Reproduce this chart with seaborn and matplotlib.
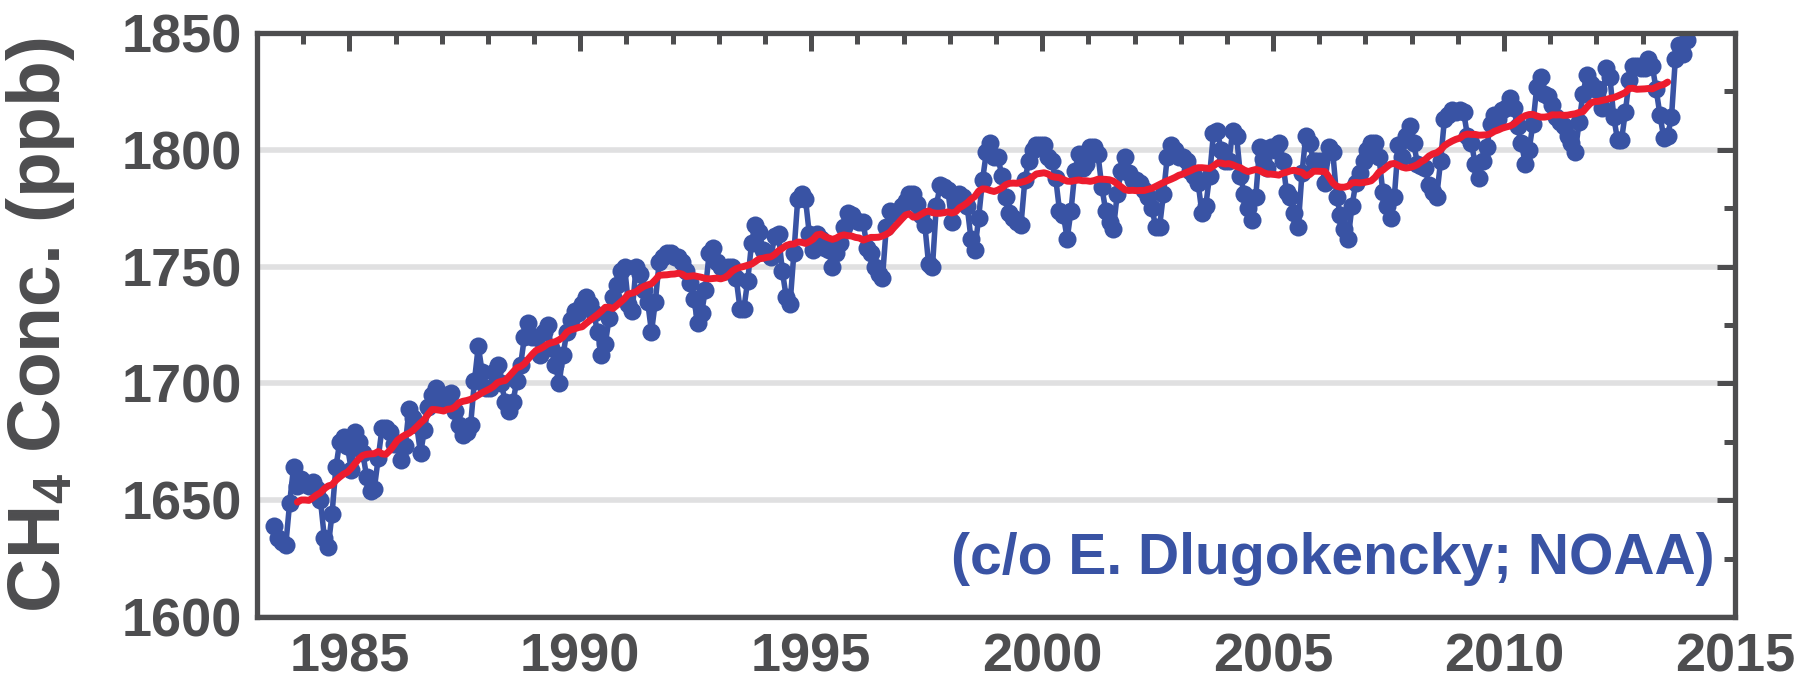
import numpy as np
import pandas as pd
import matplotlib
matplotlib.use('Agg')
import matplotlib.pyplot as plt
import seaborn as sns

# Monthly CH4 means (ppb): May 1983 .. Dec 2013
ch4_1983 = [1639, 1634, 1632, 1631, 1649, 1664, 1656, 1659]
ch4_1984 = [1657, 1656, 1658, 1655, 1650, 1634, 1630, 1644, 1664, 1675, 1677, 1673]
ch4_1985 = [1663, 1679, 1675, 1670, 1660, 1654, 1655, 1668, 1681, 1681, 1679, 1674]
ch4_1986 = [1674, 1667, 1673, 1689, 1685, 1682, 1670, 1680, 1690, 1695, 1698, 1694]
ch4_1987 = [1692, 1695, 1696, 1688, 1682, 1678, 1679, 1682, 1701, 1716, 1705, 1698]
ch4_1988 = [1698, 1705, 1708, 1700, 1692, 1688, 1692, 1701, 1708, 1720, 1726, 1720]
ch4_1989 = [1720, 1712, 1722, 1725, 1715, 1708, 1700, 1712, 1722, 1727, 1731, 1730]
ch4_1990 = [1734, 1737, 1734, 1730, 1722, 1712, 1717, 1728, 1737, 1742, 1748, 1750]
ch4_1991 = [1734, 1731, 1750, 1747, 1740, 1735, 1722, 1735, 1752, 1754, 1756, 1756]
ch4_1992 = [1754, 1754, 1752, 1748, 1743, 1736, 1726, 1730, 1740, 1756, 1758, 1752]
ch4_1993 = [1750, 1748, 1750, 1750, 1745, 1732, 1732, 1744, 1760, 1768, 1765, 1757]
ch4_1994 = [1756, 1754, 1763, 1764, 1748, 1737, 1734, 1756, 1779, 1781, 1779, 1764]
ch4_1995 = [1757, 1764, 1762, 1758, 1757, 1750, 1756, 1760, 1767, 1773, 1772, 1770]
ch4_1996 = [1769, 1769, 1758, 1756, 1750, 1747, 1745, 1767, 1774, 1773, 1773, 1776]
ch4_1997 = [1778, 1781, 1781, 1777, 1772, 1768, 1751, 1750, 1776, 1785, 1784, 1783]
ch4_1998 = [1769, 1778, 1781, 1780, 1776, 1762, 1757, 1771, 1787, 1799, 1803, 1797]
ch4_1999 = [1797, 1789, 1780, 1773, 1771, 1769, 1768, 1787, 1795, 1800, 1802, 1802]
ch4_2000 = [1802, 1797, 1795, 1788, 1774, 1772, 1762, 1774, 1791, 1798, 1792, 1794]
ch4_2001 = [1801, 1801, 1798, 1784, 1774, 1769, 1766, 1781, 1791, 1797, 1790, 1787]
ch4_2002 = [1787, 1786, 1783, 1780, 1775, 1767, 1767, 1781, 1797, 1802, 1800, 1797]
ch4_2003 = [1797, 1795, 1791, 1789, 1786, 1773, 1776, 1789, 1807, 1808, 1800, 1795]
ch4_2004 = [1795, 1808, 1806, 1789, 1781, 1775, 1770, 1780, 1801, 1796, 1792, 1801]
ch4_2005 = [1800, 1803, 1795, 1782, 1780, 1773, 1767, 1790, 1806, 1803, 1795, 1795]
ch4_2006 = [1795, 1786, 1801, 1799, 1780, 1772, 1766, 1762, 1776, 1786, 1790, 1795]
ch4_2007 = [1800, 1803, 1803, 1797, 1782, 1776, 1771, 1780, 1802, 1797, 1806, 1810]
ch4_2008 = [1803, 1794, 1793, 1792, 1785, 1782, 1780, 1795, 1813, 1815, 1817, 1816]
ch4_2009 = [1817, 1816, 1806, 1803, 1794, 1788, 1795, 1801, 1811, 1815, 1813, 1817]
ch4_2010 = [1818, 1822, 1818, 1810, 1803, 1794, 1800, 1811, 1827, 1831, 1824, 1823]
ch4_2011 = [1819, 1814, 1812, 1810, 1806, 1803, 1799, 1812, 1824, 1832, 1828, 1826]
ch4_2012 = [1826, 1818, 1835, 1831, 1814, 1804, 1804, 1816, 1830, 1836, 1836, 1835]
ch4_2013 = [1835, 1839, 1836, 1826, 1815, 1805, 1806, 1814, 1839, 1845, 1841, 1847]

start_year, start_month = 1983, 5

monthly = (ch4_1983 + ch4_1984 + ch4_1985 + ch4_1986 + ch4_1987 + ch4_1988
           + ch4_1989 + ch4_1990 + ch4_1991 + ch4_1992 + ch4_1993 + ch4_1994
           + ch4_1995 + ch4_1996 + ch4_1997 + ch4_1998 + ch4_1999 + ch4_2000
           + ch4_2001 + ch4_2002 + ch4_2003 + ch4_2004 + ch4_2005 + ch4_2006
           + ch4_2007 + ch4_2008 + ch4_2009 + ch4_2010 + ch4_2011 + ch4_2012
           + ch4_2013)

# decimal year at mid-month
t = start_year + (start_month - 1 + np.arange(len(monthly)) + 0.5) / 12
df = pd.DataFrame({'year': t, 'ch4': monthly})
# 12 month running mean (red trend line)
df['running'] = df['ch4'].rolling(12, center=True).mean()

blue = '#3953a4'
red = '#ed1c2e'
gray = '#4d4d4f'

sns.set_style('white')
plt.rcParams['font.family'] = ['Liberation Sans', 'DejaVu Sans']
plt.rcParams['font.weight'] = 'bold'
plt.rcParams['mathtext.fontset'] = 'custom'
plt.rcParams['mathtext.rm'] = 'Liberation Sans:bold'
plt.rcParams['mathtext.bf'] = 'Liberation Sans:bold'
plt.rcParams['mathtext.it'] = 'Liberation Sans:bold'

fig = plt.figure(figsize=(18.16, 6.85), dpi=100)
ax = fig.add_axes([0.1415, 0.0993, 0.8139, 0.8525])

ax.yaxis.grid(True, color='#e0e0e1', lw=4)
ax.set_axisbelow(True)

sns.lineplot(data=df, x='year', y='ch4', color=blue, lw=4, marker='o',
             markersize=13, markeredgewidth=0, ax=ax)
sns.lineplot(data=df.dropna(), x='year', y='running', color=red, lw=5, ax=ax)

ax.set_xlim(1983, 2015)
ax.set_ylim(1600, 1850)
ax.set_xticks(range(1985, 2016, 5))
ax.set_xticks(range(1983, 2016), minor=True)
ax.set_yticks(range(1600, 1851, 50))
ax.set_yticks(range(1600, 1851, 25), minor=True)

ax.tick_params(which='both', direction='in', top=True, right=True,
               color=gray, width=3.6)
ax.tick_params(which='major', length=13, labelsize=39, labelcolor=gray, pad=11)
ax.tick_params(which='minor', length=8)
for lab in ax.get_xticklabels() + ax.get_yticklabels():
    lab.set_fontweight('bold')

for s in ax.spines.values():
    s.set_linewidth(3.8)
    s.set_color(gray)

ax.set_xlabel('')
ax.set_ylabel('CH$_{4}$ Conc. (ppb)', fontsize=54, color=gray, fontweight='bold')
ax.yaxis.set_label_coords(-0.122, 0.5)

ax.text(0.986, 0.099, '(c/o E. Dlugokencky; NOAA)', transform=ax.transAxes,
        ha='right', va='center', fontsize=41, color=blue, fontweight='bold')

fig.savefig('out.png', dpi=100)
